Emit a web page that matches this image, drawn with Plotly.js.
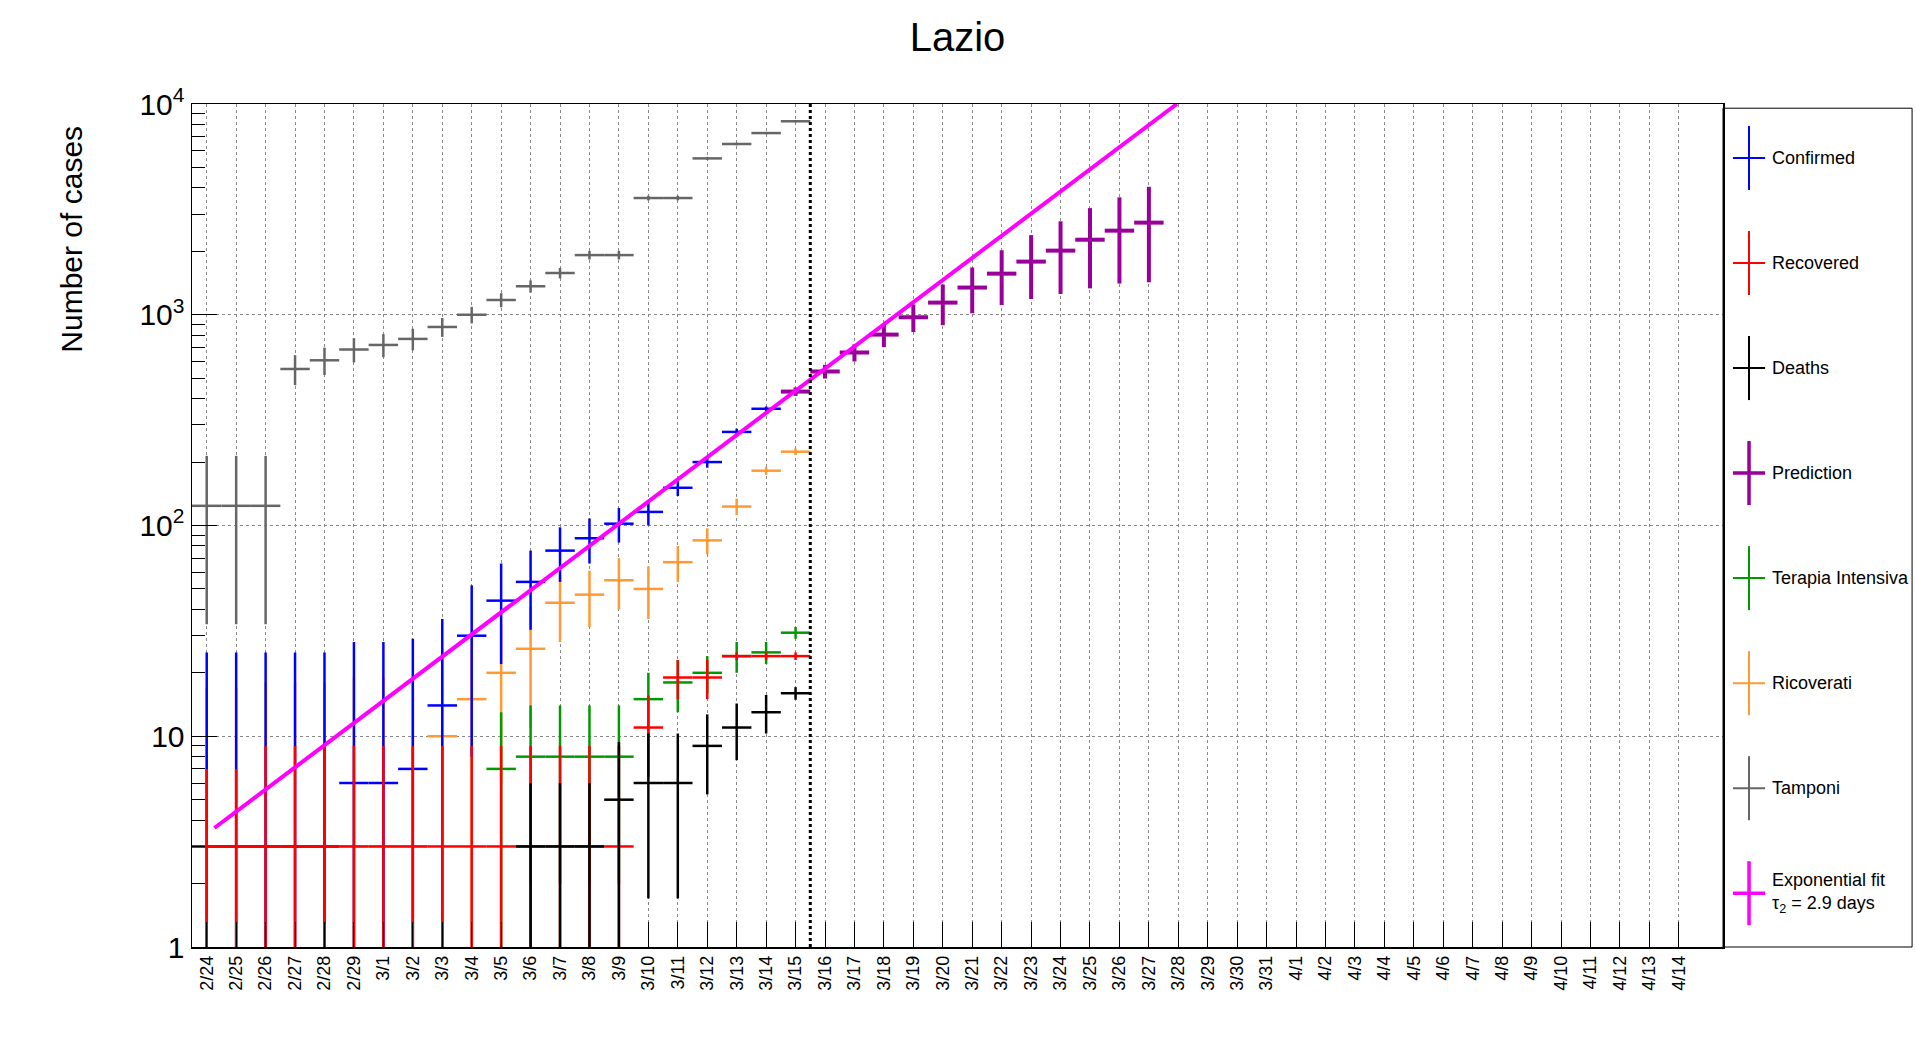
<!DOCTYPE html>
<html>
<head>
<meta charset="utf-8">
<script src="https://cdn.plot.ly/plotly-3.0.1.min.js"></script>
<style>
  html, body { margin: 0; padding: 0; background: #fff; }
  #data { width: 1916px; height: 1052px; }
</style>
</head>
<body>
<div id="data"></div>
<script>
var dateLabels = ['2/24','2/25','2/26','2/27','2/28','2/29','3/1','3/2','3/3','3/4','3/5','3/6','3/7','3/8',
  '3/9','3/10','3/11','3/12','3/13','3/14','3/15','3/16','3/17','3/18','3/19','3/20','3/21','3/22','3/23',
  '3/24','3/25','3/26','3/27','3/28','3/29','3/30','3/31','4/1','4/2','4/3','4/4','4/5','4/6','4/7','4/8',
  '4/9','4/10','4/11','4/12','4/13','4/14'];

// day index of each series (0 = 2/24)
var confirmedX = [0,1,2,3,4,5,6,7,8,9,10,11,12,13,14,15,16,17,18,19];
var confirmedY = [3,3,3,3,3,6,6,7,14,30,44,54,76,87,102,116,151,200,278,358];
var confirmedErr = [22,22,22,22,22,22,22,22,22,22,22,22,22,21,19,16,13,12,10,9];

var recoveredX = [0,1,2,3,4,5,6,7,8,9,10,11,12,13,14,15,16,17,18,19,20];
var recoveredY = [3,3,3,3,3,3,3,3,3,3,3,3,3,3,3,11,19,19,24,24,24];
var recoveredErr = [4,4,6,6,6,6,6,6,6,6,6,6,6,6,6,4.6,4,4,1,1,1];

var deathsX = [11,12,13,14,15,16,17,18,19,20];
var deathsY = [3,3,3,5,6,6,9,11,13,16];
var deathsErr = [3,3,3,4.4,4.3,4.3,3.7,3.3,2.7,1.1];

var predictionX = [20,21,22,23,24,25,26,27,28,29,30,31,32];
var predictionY = [432,538,662,805,973,1142,1346,1567,1787,2015,2270,2506,2736];
var predictionErr = [20,40,62,103,145,250,330,456,600,760,936,1100,1310];

var icuX = [10,11,12,13,14,15,16,17,18,19,20];
var icuY = [7,8,8,8,8,15,18,20,24,25,31];
var icuErr = [6,6,6,6,6,5,5,4,4,3,2];

var hospX = [0,1,2,3,4,5,6,7,8,9,10,11,12,13,14,15,16,17,18,19,20];
var hospY = [3,3,3,3,3,3,3,3,10,15,20,26,43,47,55,50,67,85,123,182,224];
var hospErr = [14,14,15,15,15,16,16,16,16,14,14,15,15,14,15,14,13,12,11,8,8];

var swabX = [0,1,2,3,4,5,6,7,8,9,10,11,12,13,14,15,16,17,18,19,20];
var swabY = [124,124,124,553,608,684,719,768,875,1000,1175,1365,1578,1919,1919,3580,3580,5520,6460,7280,8280];
var swabErr = 90;

var fitX = [0.26, 32.95];
var fitY = [3.67, 10000];

var fitStartLabel = 'Exponential fit';
var fitTauLabel = '\u03c4<sub>2</sub> = 2.9 days';
var forecastStart = 20.5;

var seriesList = [
  {name: 'Confirmed', color: '#0000ff', x: confirmedX, y: confirmedY, err: confirmedErr, w: 2.5},
  {name: 'Recovered', color: '#ff0000', x: recoveredX, y: recoveredY, err: recoveredErr, w: 2.5},
  {name: 'Deaths', color: '#000000', x: deathsX, y: deathsY, err: deathsErr, w: 2.5},
  {name: 'Prediction', color: '#990099', x: predictionX, y: predictionY, err: predictionErr, w: 4},
  {name: 'Terapia Intensiva', color: '#009900', x: icuX, y: icuY, err: icuErr, w: 2.5},
  {name: 'Ricoverati', color: '#ff9933', x: hospX, y: hospY, err: hospErr, w: 2.5},
  {name: 'Tamponi', color: '#666666', x: swabX, y: swabY, err: swabErr, w: 2.5}
];
// draw order so early red/blue points stay on top like the original
var drawOrder = [5, 4, 0, 1, 2, 3, 6];

var traces = drawOrder.map(function (k) {
  var s = seriesList[k];
  var ey = Array.isArray(s.err) ? {type: 'data', array: s.err} : {type: 'constant', value: s.err};
  ey.width = 0; ey.thickness = s.w; ey.color = s.color;
  return {
    x: s.x, y: s.y, type: 'scatter', mode: 'markers', name: s.name,
    marker: {size: 1, color: s.color},
    error_x: {type: 'constant', value: 0.5, width: 0, thickness: s.w, color: s.color},
    error_y: ey,
    cliponaxis: true,
    hoverinfo: 'x+y'
  };
});
traces.push({
  x: fitX, y: fitY, type: 'scatter', mode: 'lines', name: 'fit',
  line: {color: '#ff00ff', width: 4}
});

var font = 'Liberation Sans, Arial, sans-serif';
var tickIdx = dateLabels.map(function (d, i) { return i; });

// manual ROOT-like legend
var legendNames = seriesList.map(function (s) { return s.name; }).concat([fitStartLabel]);
var legendColors = seriesList.map(function (s) { return s.color; }).concat(['#ff00ff']);
var shapes = [
  {type: 'line', xref: 'x', yref: 'paper', x0: forecastStart, x1: forecastStart, y0: 0, y1: 1,
   line: {color: 'black', width: 3, dash: 'dot'}},
  {type: 'rect', xref: 'paper', yref: 'paper', x0: 1.0, x1: 1.1235, y0: 0, y1: 0.995,
   line: {color: 'black', width: 1}}
];
var annotations = [
  {xref: 'paper', yref: 'paper', x: -0.0785, y: 0.84, xanchor: 'center', yanchor: 'middle',
   text: 'Number of cases', textangle: -90, showarrow: false, font: {family: font, size: 30, color: 'black'}}
];
legendNames.forEach(function (n, i) {
  var yc = 0.936 - i * 0.1246;
  var lw = (i === 3 || i === 7) ? 3.5 : 2;
  shapes.push({type: 'line', xref: 'paper', yref: 'paper', x0: 1.017, x1: 1.017, y0: yc - 0.038, y1: yc + 0.038,
    line: {color: legendColors[i], width: lw}});
  shapes.push({type: 'line', xref: 'paper', yref: 'paper', x0: 1.0065, x1: 1.0275, y0: yc, y1: yc,
    line: {color: legendColors[i], width: lw}});
  var txt = i === 7 ? n + '<br>' + fitTauLabel : n;
  annotations.push({xref: 'paper', yref: 'paper', x: 1.031, y: yc, xanchor: 'left', yanchor: 'middle',
    text: txt, showarrow: false, align: 'left', font: {family: font, size: 18, color: 'black'}});
});

var layout = {
  width: 1916,
  height: 1052,
  margin: {l: 192, r: 193, t: 103.5, b: 105, pad: 0},
  paper_bgcolor: 'white',
  plot_bgcolor: 'white',
  showlegend: false,
  font: {family: font, color: 'black'},
  title: {text: 'Lazio', x: 0.5, xref: 'paper', y: 0.965, yanchor: 'middle', font: {family: font, size: 40}},
  xaxis: {
    range: [-0.5, 51.5],
    tickmode: 'array', tickvals: tickIdx, ticktext: dateLabels,
    tickangle: -90, tickfont: {size: 18},
    ticks: 'inside', ticklen: 25, tickcolor: 'black',
    showgrid: true, gridcolor: '#888', griddash: 'dot', gridwidth: 1,
    showline: true, mirror: true, linecolor: 'black', linewidth: 1.5,
    zeroline: false
  },
  yaxis: {
    type: 'log',
    range: [0, 4],
    tickmode: 'array', tickvals: [1, 10, 100, 1000, 10000],
    ticktext: ['1', '10', '10<sup>2</sup>', '10<sup>3</sup>', '10<sup>4</sup>'],
    tickfont: {size: 30},
    ticks: 'inside', ticklen: 25, tickcolor: 'black',
    minor: {ticks: 'inside', ticklen: 13, tickcolor: 'black', showgrid: false,
      tickvals: [2,3,4,5,6,7,8,9,20,30,40,50,60,70,80,90,200,300,400,500,600,700,800,900,2000,3000,4000,5000,6000,7000,8000,9000]},
    showgrid: true, gridcolor: '#888', griddash: 'dot', gridwidth: 1,
    showline: true, mirror: true, linecolor: 'black', linewidth: 1.5,
    zeroline: false
  },
  shapes: shapes,
  annotations: annotations
};

Plotly.newPlot('data', traces, layout, {displayModeBar: false, staticPlot: true});
</script>
</body>
</html>
